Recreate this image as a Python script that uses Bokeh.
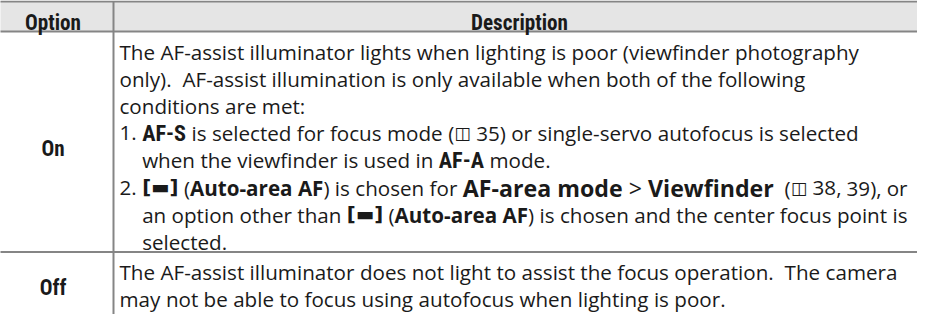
import os
import re
import struct

from bokeh.core.properties import value
from bokeh.embed import file_html
from bokeh.models import ColumnDataSource, Range1d
from bokeh.plotting import figure
from bokeh.resources import INLINE

# ---------------------------------------------------------------- data
HEADERS = ["Option", "Description"]
OPTIONS = ["On", "Off"]

# each line: list of (style, text); styles: r regular, b bold, B big bold,
# R big regular, c condensed bold, i reference icon, k area icon
DESC_ON = [
    [("r", "The AF-assist illuminator lights when lighting is poor (viewfinder photography")],
    [("r", "only).  AF-assist illumination is only available when both of the following")],
    [("r", "conditions are met:")],
    [("r", "1. "), ("c", "AF-S"), ("r", " is selected for focus mode ("), ("i", "\u25eb"),
     ("r", " 35) or single-servo autofocus is selected")],
    [("r", "when the viewfinder is used in "), ("c", "AF-A"), ("r", " mode.")],
    [("r", "2. "), ("k", "[\u25ac]"), ("r", " ("), ("b", "Auto-area AF"), ("r", ") is chosen for "),
     ("B", "AF-area mode"), ("R", " > "), ("B", "Viewfinder"), ("r", "  ("), ("i", "\u25eb"),
     ("r", " 38, 39), or")],
    [("r", "an option other than "), ("k", "[\u25ac]"), ("r", " ("), ("b", "Auto-area AF"),
     ("r", ") is chosen and the center focus point is")],
    [("r", "selected.")],
]
INDENT_ON = [False, False, False, False, True, False, True, True]

DESC_OFF = [
    [("r", "The AF-assist illuminator does not light to assist the focus operation.  The camera")],
    [("r", "may not be able to focus using autofocus when lighting is poor.")],
]
INDENT_OFF = [False, False]

# ---------------------------------------------------------------- layout
W, H = 917, 314
PX0, PY0 = 8, 8              # page margin: data coords == page pixels
TABLE_L, TABLE_R = 0, 933
COL_DIV = 121
TOP, HEAD_B, BOTTOM = 9, 39, 400
TEXT_X = 127
FIRST_OFF = 20               # row line -> first baseline
LAST_OFF = 10                # last baseline -> row line
LH = 27.2
RIGHT = 915.0                # right limit of the widest lines
LABEL_TARGET = 56.0          # width of the "Option" header label

GRID_COLOR = "#858585"
HEAD_FILL = "#e5e5e5"
TEXT_COLOR = "#1a1a1a"


# ---------------------------------------------------------------- font metrics
def _font_files():
    files = {}
    for d in ["/usr/share/fonts", "/usr/local/share/fonts",
              os.path.expanduser("~/.fonts"), os.path.expanduser("~/.local/share/fonts")]:
        for root, _, names in os.walk(d):
            for n in sorted(names):
                files.setdefault(n.lower(), os.path.join(root, n))
    return files


FILES = _font_files()


def pick(*names, prefix=None):
    for n in names:
        if n.lower() in FILES:
            return FILES[n.lower()]
    if prefix:
        for k, v in sorted(FILES.items()):
            if k.startswith(prefix) and "italic" not in k:
                return v
    return None


class Font:
    def __init__(self, path, scale=1.0):
        self.scale = scale
        self.ok = False
        self.family = None
        if not path:
            return
        try:
            data = open(path, "rb").read()
            base = 0
            if data[:4] == b"ttcf":
                base = struct.unpack(">I", data[12:16])[0]
            num = struct.unpack(">H", data[base + 4:base + 6])[0]
            t = {}
            for i in range(num):
                r = base + 12 + 16 * i
                t[data[r:r + 4]] = struct.unpack(">I", data[r + 8:r + 12])[0]
            head, hhea, hmtx, cmap = t[b"head"], t[b"hhea"], t[b"hmtx"], t[b"cmap"]
            self.upem = struct.unpack(">H", data[head + 18:head + 20])[0]
            nhm = struct.unpack(">H", data[hhea + 34:hhea + 36])[0]
            self.adv = struct.unpack(">%dH" % (2 * nhm), data[hmtx:hmtx + 4 * nhm])[0::2]
            ntab = struct.unpack(">H", data[cmap + 2:cmap + 4])[0]
            s12 = s4 = None
            for i in range(ntab):
                pid, eid, off = struct.unpack(">HHI", data[cmap + 4 + 8 * i:cmap + 12 + 8 * i])
                o = cmap + off
                fmt = struct.unpack(">H", data[o:o + 2])[0]
                if fmt == 12 and s12 is None:
                    s12 = o
                if fmt == 4 and s4 is None and (pid == 0 or (pid == 3 and eid == 1)):
                    s4 = o
            if s12 is not None:
                ng = struct.unpack(">I", data[s12 + 12:s12 + 16])[0]
                groups = [struct.unpack(">III", data[s12 + 16 + 12 * i:s12 + 28 + 12 * i])
                          for i in range(ng)]

                def gid(c):
                    for s, e, g in groups:
                        if s <= c <= e:
                            return g + c - s
                    return 0
            else:
                o = s4
                sx2 = struct.unpack(">H", data[o + 6:o + 8])[0]
                n = sx2 // 2
                ends = struct.unpack(">%dH" % n, data[o + 14:o + 14 + sx2])
                starts = struct.unpack(">%dH" % n, data[o + 16 + sx2:o + 16 + 2 * sx2])
                deltas = struct.unpack(">%dh" % n, data[o + 16 + 2 * sx2:o + 16 + 3 * sx2])
                rpos = o + 16 + 3 * sx2
                roffs = struct.unpack(">%dH" % n, data[rpos:rpos + sx2])

                def gid(c):
                    for i in range(n):
                        if starts[i] <= c <= ends[i]:
                            if roffs[i] == 0:
                                return (c + deltas[i]) & 0xFFFF
                            a = rpos + 2 * i + roffs[i] + 2 * (c - starts[i])
                            g = struct.unpack(">H", data[a:a + 2])[0]
                            return (g + deltas[i]) & 0xFFFF if g else 0
                    return 0
            self.gid = gid
            self.ok = True
            if b"name" in t:
                nm = t[b"name"]
                cnt, soff = struct.unpack(">HH", data[nm + 2:nm + 6])
                for i in range(cnt):
                    pid, eid, lid, nid, ln, of = struct.unpack(
                        ">6H", data[nm + 6 + 12 * i:nm + 18 + 12 * i])
                    if nid == 1:
                        raw = data[nm + soff + of:nm + soff + of + ln]
                        fam = raw.decode("utf-16-be") if pid in (0, 3) else raw.decode("latin-1")
                        if fam:
                            self.family = fam
                            if pid == 3:
                                break
        except Exception:
            self.ok = False

    def em(self, s):
        if not self.ok:
            return 0.56 * len(s) * self.scale
        tot = 0.0
        for ch in s:
            g = self.gid(ord(ch))
            if g == 0:
                tot += 0.6 * self.upem
            else:
                tot += self.adv[min(g, len(self.adv) - 1)]
        return tot / self.upem * self.scale


reg_path = pick("OpenSans-Regular.ttf", prefix="opensans")
bold_path = pick("OpenSans-Bold.ttf")
F_R = Font(reg_path)
F_B = Font(bold_path) if bold_path else Font(reg_path, 1.06)

# condensed bold face for option names / mode names
FAM_C, F_C = None, None
for fname, fam in [("LiberationSansNarrow-Bold.ttf", "Liberation Sans Narrow"),
                   ("RobotoCondensed-Bold.ttf", "Roboto Condensed"),
                   ("NotoSans-CondensedBold.ttf", None),
                   ("DejaVuSansCondensed-Bold.ttf", "DejaVu Sans Condensed"),
                   ("Roboto-Bold.ttf", "Roboto"),
                   ("LiberationSans-Bold.ttf", "Liberation Sans")]:
    path = pick(fname)
    if path:
        f = Font(path)
        if f.ok:
            FAM_C, F_C = fam or f.family or "Roboto", f
            break
if F_C is None:
    FAM_C, F_C = "Roboto", Font(None)

F_DV = Font(pick("DejaVuSans.ttf"))
F_DVB = Font(pick("DejaVuSans-Bold.ttf"))

STYLE = {
    "r": ["Open Sans", "normal", 1.0, F_R],
    "b": ["Open Sans", "bold", 1.0, F_B],
    "B": ["Open Sans", "bold", 1.15, F_B],
    "R": ["Open Sans", "normal", 1.15, F_R],
    "c": [FAM_C, "bold", 1.08, F_C],
    "i": ["DejaVu Sans", "normal", 0.85, F_DV],
    "k": ["DejaVu Sans", "bold", 0.95, F_DVB],
}


def em_line(segs, skip=""):
    return sum(STYLE[s][2] * STYLE[s][3].em(t) for s, t in segs if s not in skip)


indent_em = F_R.em("2. ")
# body size: widest full lines reach the right limit
S = min((RIGHT - TEXT_X) / em_line(DESC_OFF[0]),
        (RIGHT - TEXT_X) / (indent_em + em_line(DESC_ON[6])))
SL = LABEL_TARGET / F_C.em(HEADERS[0])     # size of header and option labels

# size of the menu-name text so that line 6 reaches the right limit
small = em_line(DESC_ON[5], skip="BR")
bigw = sum(STYLE[s][3].em(t) for s, t in DESC_ON[5] if s in "BR")
big = ((RIGHT - TEXT_X) / S - small) / bigw if bigw else 1.15
big = max(1.0, min(1.3, big))
STYLE["B"][2] = big
STYLE["R"][2] = big


def width(style, txt):
    fam, fs, k, f = STYLE[style]
    return f.em(txt) * k * S


groups = {k: dict(x=[], y=[], t=[]) for k in STYLE}
indent_x = TEXT_X + indent_em * S


def lay(lines, indents, y0):
    ys = []
    for i, (segs, ind) in enumerate(zip(lines, indents)):
        y = y0 + i * LH
        ys.append(y)
        x = indent_x if ind else TEXT_X
        for style, txt in segs:
            for tok in re.findall(r"\S+|\s+", txt):
                w = width(style, tok)
                if not tok.isspace():
                    g = groups[style]
                    g["x"].append(x)
                    g["y"].append(y)
                    g["t"].append(tok)
                x += w
    return ys


ys_on = lay(DESC_ON, INDENT_ON, HEAD_B + FIRST_OFF)
ROW_DIV = ys_on[-1] + LAST_OFF
ys_off = lay(DESC_OFF, INDENT_OFF, ROW_DIV + FIRST_OFF)

# ---------------------------------------------------------------- figure
p = figure(width=W, height=H, x_range=Range1d(PX0, PX0 + W), y_range=Range1d(PY0 + H, PY0),
           x_axis_type=None, y_axis_type=None, output_backend="svg", toolbar_location=None,
           title=None, min_border=0, outline_line_color=None, background_fill_color="white",
           border_fill_color="white")

p.quad(left=[TABLE_L], right=[TABLE_R], top=[TOP], bottom=[HEAD_B],
       fill_color=HEAD_FILL, line_color=None)
p.segment(x0=[TABLE_L, TABLE_L, TABLE_L, COL_DIV], y0=[TOP, HEAD_B, ROW_DIV, TOP],
          x1=[TABLE_R, TABLE_R, TABLE_R, COL_DIV], y1=[TOP, HEAD_B, ROW_DIV, BOTTOM],
          line_color=GRID_COLOR, line_width=2)

# header labels
head_base = (TOP + HEAD_B) / 2 + 0.29 * SL
p.text(x=[(TABLE_L + COL_DIV) / 2, (COL_DIV + TABLE_R) / 2], y=[head_base, head_base],
       text=HEADERS, text_font=value(FAM_C), text_font_style="bold",
       text_font_size=value("%.2fpx" % SL), text_align="center", text_baseline="alphabetic",
       text_color=TEXT_COLOR)

# option labels, vertically centred on their description block
opt_y = []
for ys in (ys_on, ys_off):
    mid = (ys[0] + ys[-1]) / 2 - 0.27 * S
    opt_y.append(mid + 0.355 * SL)
p.text(x=[(TABLE_L + COL_DIV) / 2] * 2, y=opt_y, text=OPTIONS, text_font=value(FAM_C),
       text_font_style="bold", text_font_size=value("%.2fpx" % SL), text_align="center",
       text_baseline="alphabetic", text_color=TEXT_COLOR)

for style, g in groups.items():
    if not g["t"]:
        continue
    fam, fs, k, f = STYLE[style]
    p.text(x="x", y="y", text="t", source=ColumnDataSource(g), text_font=value(fam),
           text_font_style=fs, text_font_size=value("%.2fpx" % (S * k)),
           text_align="left", text_baseline="alphabetic", text_color=TEXT_COLOR)

open("out.html", "w").write(file_html(p, INLINE))
